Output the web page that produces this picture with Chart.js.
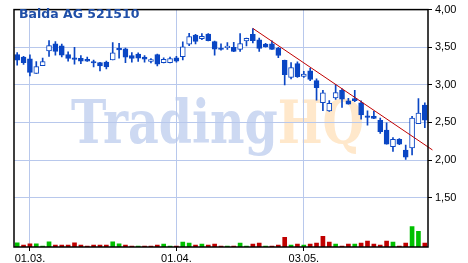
<!DOCTYPE html>
<html>
<head>
<meta charset="utf-8">
<script src="https://cdn.jsdelivr.net/npm/chart.js@4.4.0/dist/chart.umd.min.js"></script>
<style>
  html, body { margin: 0; padding: 0; background: #fff; }
  canvas { display: block; }
</style>
</head>
<body>
<canvas id="chart" width="468" height="263"></canvas>
<script>
// trading days
const dates = [
  '25.02.', '26.02.',
  '01.03.', '02.03.', '03.03.', '04.03.', '05.03.', '08.03.', '09.03.', '10.03.', '11.03.', '12.03.',
  '15.03.', '16.03.', '17.03.', '18.03.', '19.03.', '22.03.', '23.03.', '24.03.', '25.03.', '26.03.',
  '29.03.', '30.03.', '31.03.',
  '01.04.', '06.04.', '07.04.', '08.04.', '09.04.', '12.04.', '13.04.', '14.04.', '15.04.', '16.04.',
  '19.04.', '20.04.', '21.04.', '22.04.', '23.04.', '26.04.', '27.04.', '28.04.', '29.04.', '30.04.',
  '03.05.', '04.05.', '05.05.', '06.05.', '07.05.', '10.05.', '11.05.', '12.05.', '13.05.', '14.05.',
  '17.05.', '18.05.', '19.05.', '20.05.', '21.05.', '24.05.', '25.05.', '26.05.', '27.05.', '28.05.'
];

const opens = [
  3.403, 3.368, 3.347, 3.152, 3.256, 3.451, 3.545, 3.519, 3.403, 3.357,
  3.351, 3.340, 3.300, 3.295, 3.303, 3.331, 3.484, 3.480, 3.390, 3.410,
  3.370, 3.310, 3.403, 3.295, 3.295, 3.360, 3.373, 3.542, 3.662, 3.614,
  3.675, 3.575, 3.478, 3.495, 3.497, 3.471, 3.584, 3.671, 3.597, 3.540,
  3.545, 3.484, 3.325, 3.100, 3.282, 3.113, 3.186, 3.056, 2.762, 2.653,
  2.827, 2.926, 2.788, 2.818, 2.762, 2.588, 2.580, 2.529, 2.399, 2.178,
  2.277, 2.134, 2.160, 2.484, 2.731
];
const highs = [
  3.430, 3.380, 3.400, 3.310, 3.357, 3.587, 3.575, 3.540, 3.440, 3.497,
  3.390, 3.370, 3.330, 3.300, 3.316, 3.562, 3.552, 3.490, 3.430, 3.425,
  3.390, 3.350, 3.410, 3.360, 3.370, 3.380, 3.571, 3.684, 3.670, 3.680,
  3.680, 3.580, 3.545, 3.560, 3.565, 3.680, 3.620, 3.747, 3.620, 3.550,
  3.584, 3.500, 3.330, 3.295, 3.305, 3.178, 3.220, 3.078, 2.926, 2.790,
  3.004, 2.948, 2.820, 2.926, 2.788, 2.653, 2.646, 2.558, 2.494, 2.300,
  2.285, 2.199, 2.580, 2.818, 2.762
];
const lows = [
  3.260, 3.270, 3.120, 3.150, 3.255, 3.377, 3.393, 3.370, 3.316, 3.273,
  3.280, 3.310, 3.238, 3.186, 3.210, 3.330, 3.353, 3.295, 3.300, 3.310,
  3.300, 3.290, 3.250, 3.290, 3.290, 3.300, 3.331, 3.520, 3.545, 3.600,
  3.585, 3.393, 3.461, 3.470, 3.440, 3.445, 3.516, 3.558, 3.445, 3.500,
  3.470, 3.360, 3.000, 3.078, 3.100, 3.100, 3.055, 2.796, 2.658, 2.645,
  2.805, 2.700, 2.744, 2.775, 2.545, 2.464, 2.550, 2.355, 2.210, 2.113,
  2.205, 2.009, 2.069, 2.484, 2.429
];
const closes = [
  3.329, 3.295, 3.165, 3.243, 3.308, 3.523, 3.445, 3.394, 3.351, 3.338,
  3.316, 3.314, 3.290, 3.251, 3.238, 3.425, 3.464, 3.368, 3.351, 3.355,
  3.340, 3.335, 3.273, 3.338, 3.350, 3.316, 3.504, 3.640, 3.578, 3.645,
  3.588, 3.474, 3.470, 3.500, 3.445, 3.549, 3.619, 3.588, 3.484, 3.506,
  3.471, 3.390, 3.134, 3.230, 3.108, 3.143, 3.071, 2.961, 2.892, 2.753,
  2.896, 2.809, 2.744, 2.788, 2.601, 2.568, 2.554, 2.377, 2.212, 2.277,
  2.212, 2.039, 2.558, 2.623, 2.529
];
const prevClose = 3.30;

// volume, thousand shares
const volumes = [
  86, 40, 66, 66, 20, 106, 40, 40, 40, 86,
  40, 20, 40, 40, 40, 106, 66, 40, 20, 20,
  20, 20, 40, 60, 20, 20, 100, 80, 40, 60,
  40, 60, 20, 20, 20, 80, 20, 60, 80, 20,
  20, 40, 200, 40, 60, 40, 60, 80, 220, 100,
  60, 20, 60, 60, 80, 120, 60, 40, 120, 100,
  20, 80, 420, 320, 80
];

const priceTicks = [1.5, 2, 2.5, 3, 3.5, 4];

// trend line (candle index, price)
const trendX = [37, 65.2];
const trendY = [3.75, 2.134];

const BLUE = '#0a46c4';
const GRID = '#b8c8ec';

const bodies = opens.map((o, i) => [o, closes[i]]);
const wicks = lows.map((l, i) => [l, highs[i]]);
const bodyFill = closes.map((c, i) => c >= opens[i] ? '#ffffff' : BLUE);
const volColors = closes.map((c, i) => c >= (i ? closes[i - 1] : prevClose) ? '#00c000' : '#c00000');

const framePlugin = {
  id: 'frame',
  beforeDraw(chart) {
    const { ctx } = chart;
    ctx.save();
    ctx.font = 'bold 60px "DejaVu Serif"';
    ctx.textBaseline = 'alphabetic';
    const w1 = ctx.measureText('Trading').width;
    const w2 = ctx.measureText('HQ').width;
    const sx = 293 / (w1 + w2);
    ctx.translate(71, 143);
    ctx.scale(sx, 1);
    ctx.fillStyle = '#cdd9f2';
    ctx.fillText('Trading', 0, 0);
    ctx.fillStyle = '#ffe8cb';
    ctx.fillText('HQ', w1, 0);
    ctx.restore();
  },
  afterDraw(chart) {
    const { ctx, chartArea: a } = chart;
    ctx.save();
    ctx.strokeStyle = '#000';
    ctx.lineWidth = 1.5;
    ctx.strokeRect(a.left, a.top, a.right - a.left, a.bottom - a.top);
    ctx.font = 'bold 12.5px "DejaVu Sans"';
    ctx.fillStyle = '#1f4fa8';
    ctx.textBaseline = 'alphabetic';
    ctx.fillText('Balda AG 521510', 19, 18);
    ctx.restore();
  }
};

new Chart(document.getElementById('chart'), {
  type: 'bar',
  data: {
    labels: dates,
    datasets: [
      {
        label: 'body',
        data: bodies,
        backgroundColor: bodyFill,
        borderColor: BLUE,
        borderWidth: 1,
        borderSkipped: false,
        barThickness: 5,
        minBarLength: 1.5,
        grouped: false,
        order: 0,
        yAxisID: 'y'
      },
      {
        label: 'wick',
        data: wicks,
        backgroundColor: BLUE,
        borderWidth: 0,
        barThickness: 1,
        grouped: false,
        order: 1,
        yAxisID: 'y'
      },
      {
        label: 'volume',
        data: volumes,
        backgroundColor: volColors,
        borderWidth: 0,
        barThickness: 4,
        grouped: false,
        order: 2,
        yAxisID: 'yv'
      },
      {
        type: 'line',
        label: 'trend',
        data: trendX.map((x, i) => ({ x: x, y: trendY[i] })),
        xAxisID: 'xt',
        yAxisID: 'y',
        borderColor: '#c00000',
        borderWidth: 1,
        pointRadius: 0,
        clip: false,
        order: -1
      }
    ]
  },
  options: {
    responsive: false,
    animation: false,
    devicePixelRatio: 1,
    layout: { padding: { left: 14, top: 4, right: 0, bottom: 0 } },
    plugins: {
      legend: { display: false },
      tooltip: { enabled: false }
    },
    scales: {
      x: {
        type: 'category',
        offset: true,
        afterFit: s => { s.height = 16; },
        border: { display: false },
        grid: {
          offset: false,
          color: GRID,
          tickColor: '#000',
          tickLength: 4,
          lineWidth: 1
        },
        ticks: {
          autoSkip: false,
          maxRotation: 0,
          padding: 1,
          color: '#000',
          font: { family: '"Liberation Sans", Arial', size: 11 },
          callback: (v, i) => (i > 0 && dates[i].slice(3) !== dates[i - 1].slice(3)) ? dates[i] : null
        }
      },
      xt: {
        type: 'linear',
        display: false,
        offset: false,
        min: -0.5,
        max: 64.5
      },
      y: {
        position: 'right',
        min: 0.844,
        max: 4.0,
        afterFit: s => { s.width = 40; },
        afterBuildTicks: s => { s.ticks = priceTicks.map(v => ({ value: v })); },
        border: { display: false },
        grid: {
          color: GRID,
          tickColor: '#000',
          tickLength: 4,
          lineWidth: 1
        },
        ticks: {
          padding: 3,
          color: '#000',
          font: { family: '"Liberation Sans", Arial', size: 11 },
          callback: v => v.toFixed(2).replace('.', ',')
        }
      },
      yv: {
        type: 'linear',
        display: false,
        min: 0,
        max: 4860
      }
    }
  },
  plugins: [framePlugin]
});
</script>
</body>
</html>
